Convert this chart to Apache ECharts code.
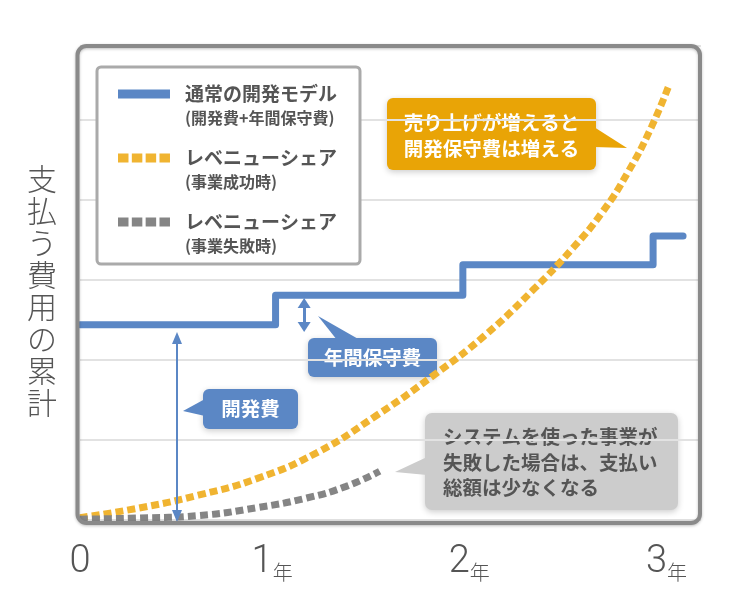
<!DOCTYPE html>
<html><head><meta charset="utf-8">
<script src="https://cdn.jsdelivr.net/npm/echarts@6/dist/echarts.min.js"></script>
<style>html,body{margin:0;padding:0;background:#fff}#c{width:745px;height:604px}</style>
</head><body><div id="c"></div>
<script>
// ---- data ----
const xTickValues = [0, 1, 2, 3];
const xTickUnit = '年';
const yTitle = '支払う費用の累計';
const seriesNames = ['通常の開発モデル (開発費+年間保守費)', 'レベニューシェア (事業成功時)', 'レベニューシェア (事業失敗時)'];
const normalX = [0, 0.992, 1.942, 2.907, 3.059];
const normalY = [2.44, 2.81, 3.19, 3.55, 3.55];
const successX = [0, 0.3, 0.6, 0.9, 1.2, 1.5, 1.8, 2.05, 2.3, 2.5, 2.65, 2.78, 2.9, 2.99];
const successY = [0.03, 0.15, 0.31, 0.52, 0.84, 1.3, 1.82, 2.3, 2.88, 3.4, 3.85, 4.35, 4.92, 5.45];
const failX = [0, 0.3, 0.6, 0.9, 1.15, 1.35, 1.52];
const failY = [0.01, 0.025, 0.055, 0.155, 0.275, 0.42, 0.61];
const devArrowX = 0.492, devArrowFrom = 0.05, devArrowTo = 2.275;
const maintArrowX = 1.137, maintArrowFrom = 2.4125, maintArrowTo = 2.7125;
const calloutDev = '開発費';
const calloutMaint = '年間保守費';
const calloutSuccess = '売り上げが増えると\n開発保守費は増える';
const calloutFail = 'システムを使った事業が\n失敗した場合は、支払い\n総額は少なくなる';

// ---- style ----
const FONT = '"Noto Sans CJK JP", "Noto Sans", sans-serif';
const BLUE = '#5b87c5', ORANGE = '#f0b431', GRAY = '#858585';
const ORANGE_BOX = '#e9a406', GRAY_BOX = '#cccccc';
const zip = (xs, ys) => xs.map((x, i) => [x, ys[i]]);

function iconPath(kind) {
  let s = 'path://M0,0h0.01v0.01h-0.01z ';
  if (kind === 'solid') s += 'M0,7h52v9h-52z ';
  else for (let i = 0; i < 4; i++) s += 'M' + (i * 13.83).toFixed(2) + ',7h10.5v9h-10.5z ';
  s += 'M62,48h0.01v0.01h-0.01z';
  return s;
}

const chart = echarts.init(document.getElementById('c'), null, {renderer: 'canvas'});
const shadow = {shadowBlur: 6, shadowColor: 'rgba(0,0,0,0.2)', shadowOffsetY: 2};

function callout(rect, tri, color, text, textPos, textStyle) {
  return {
    type: 'group', z: 50, children: [
      {type: 'rect', shape: Object.assign({r: 6}, rect), style: Object.assign({fill: color}, shadow)},
      {type: 'polygon', shape: {points: tri}, style: {fill: color}},
      {type: 'text', x: textPos[0], y: textPos[1], style: Object.assign({
        text: text, fontFamily: FONT, fontWeight: 'bold', fontSize: 19.5,
        fill: '#fff', textAlign: 'center', textVerticalAlign: 'middle', lineHeight: 26
      }, textStyle || {})}
    ]
  };
}

chart.setOption({
  animation: false,
  textStyle: {fontFamily: FONT},
  grid: {left: 80, right: 44, top: 46, bottom: 84},
  xAxis: {
    type: 'value', min: 0, max: 3.15, interval: 1,
    axisLine: {show: false}, axisTick: {show: false}, splitLine: {show: false},
    axisLabel: {
      margin: 22,
      formatter: v => (xTickValues.indexOf(v) < 0 ? '' : (v === 0 ? '{n|0}' : '{n|' + v + '}{u|' + xTickUnit + '}')),
      rich: {
        n: {fontFamily: 'Roboto', fontWeight: 300, fontSize: 38, color: '#555', lineHeight: 40},
        u: {fontFamily: FONT, fontWeight: 300, fontSize: 20, color: '#555', lineHeight: 27, verticalAlign: 'bottom', padding: [0, 10, 0, 0]}
      }
    }
  },
  yAxis: {
    type: 'value', min: 0, max: 5.925, interval: 1,
    axisLine: {show: false}, axisTick: {show: false}, axisLabel: {show: false},
    splitLine: {lineStyle: {color: '#e2e2e2', width: 2}},
    name: '{p| }\n' + yTitle.split('').map(c => '{t|' + c + '}').join('\n'),
    nameLocation: 'middle', nameGap: 38, nameRotate: 0,
    nameTextStyle: {align: 'center', verticalAlign: 'middle',
      rich: {
        p: {fontSize: 10, lineHeight: 16},
        t: {fontFamily: FONT, fontWeight: 300, fontSize: 30, lineHeight: 32, color: '#555'}
      }}
  },
  legend: {
    orient: 'vertical', left: 97, top: 67, padding: [15.5, 23, 5.5, 21],
    itemWidth: 62, itemHeight: 48, itemGap: 16, selectedMode: false,
    backgroundColor: '#fff', borderColor: '#aaaaaa', borderWidth: 3, borderRadius: 4,
    itemStyle: {borderWidth: 0},
    data: [
      {name: seriesNames[0], icon: iconPath('solid')},
      {name: seriesNames[1], icon: iconPath('dots')},
      {name: seriesNames[2], icon: iconPath('dots')}
    ],
    formatter: name => { const p = name.split(' '); return '{a|' + p[0] + '}\n{b|' + p[1] + '}'; },
    textStyle: {
      rich: {
        a: {fontFamily: FONT, fontWeight: 'bold', fontSize: 19, color: '#555', lineHeight: 23},
        b: {fontFamily: FONT, fontWeight: 'bold', fontSize: 16, color: '#555', lineHeight: 25}
      }
    }
  },
  series: [
    {
      name: seriesNames[0], type: 'line', step: 'end', data: zip(normalX, normalY),
      showSymbol: false, color: BLUE, z: 3,
      lineStyle: {width: 7, color: BLUE, join: 'round', cap: 'round'},
      markLine: {
        silent: true, animation: false, label: {show: false},
        data: [
          [
            {coord: [devArrowX, devArrowFrom], symbol: 'triangle', symbolSize: [10, 12], lineStyle: {color: BLUE, width: 2, type: 'solid'}, itemStyle: {color: BLUE}},
            {coord: [devArrowX, devArrowTo], symbol: 'triangle', symbolSize: [10, 12], lineStyle: {color: BLUE, width: 2, type: 'solid'}, itemStyle: {color: BLUE}}
          ],
          [
            {coord: [maintArrowX, maintArrowFrom], symbol: 'triangle', symbolSize: [13, 10], lineStyle: {color: BLUE, width: 3, type: 'solid'}, itemStyle: {color: BLUE}},
            {coord: [maintArrowX, maintArrowTo], symbol: 'triangle', symbolSize: [13, 10], lineStyle: {color: BLUE, width: 3, type: 'solid'}, itemStyle: {color: BLUE}}
          ]
        ]
      }
    },
    {
      name: seriesNames[1], type: 'line', data: zip(successX, successY), smooth: 0.5,
      showSymbol: false, color: ORANGE, z: 4,
      lineStyle: {width: 7, color: ORANGE, type: [8, 4]}
    },
    {
      name: seriesNames[2], type: 'line', data: zip(failX, failY), smooth: 0.5,
      showSymbol: false, color: GRAY, z: 4,
      lineStyle: {width: 7, color: GRAY, type: [8, 4]}
    }
  ],
  graphic: [
    {type: 'rect', z: 100, shape: {x: 77.5, y: 46, width: 622.5, height: 477, r: 9},
      style: {fill: 'none', stroke: '#8a8a8a', lineWidth: 4, shadowBlur: 3, shadowColor: 'rgba(0,0,0,0.25)', shadowOffsetY: 1}},
    callout({x: 387, y: 98, width: 209, height: 72}, [[594, 127], [627, 148], [594, 147]], ORANGE_BOX, calloutSuccess, [491.5, 136]),
    callout({x: 308, y: 338, width: 129, height: 39}, [[337, 340], [318, 316], [360, 340]], BLUE, calloutMaint, [372.5, 358]),
    callout({x: 203, y: 389, width: 95, height: 40}, [[205, 399], [183, 411], [205, 416]], BLUE, calloutDev, [250.5, 409]),
    callout({x: 425, y: 413, width: 253, height: 97, r: 7}, [[427, 457], [395, 472], [427, 475]], GRAY_BOX, calloutFail, [443, 462.5],
      {fill: '#555', textAlign: 'left', lineHeight: 25.5})
  ]
});
</script>
</body></html>
